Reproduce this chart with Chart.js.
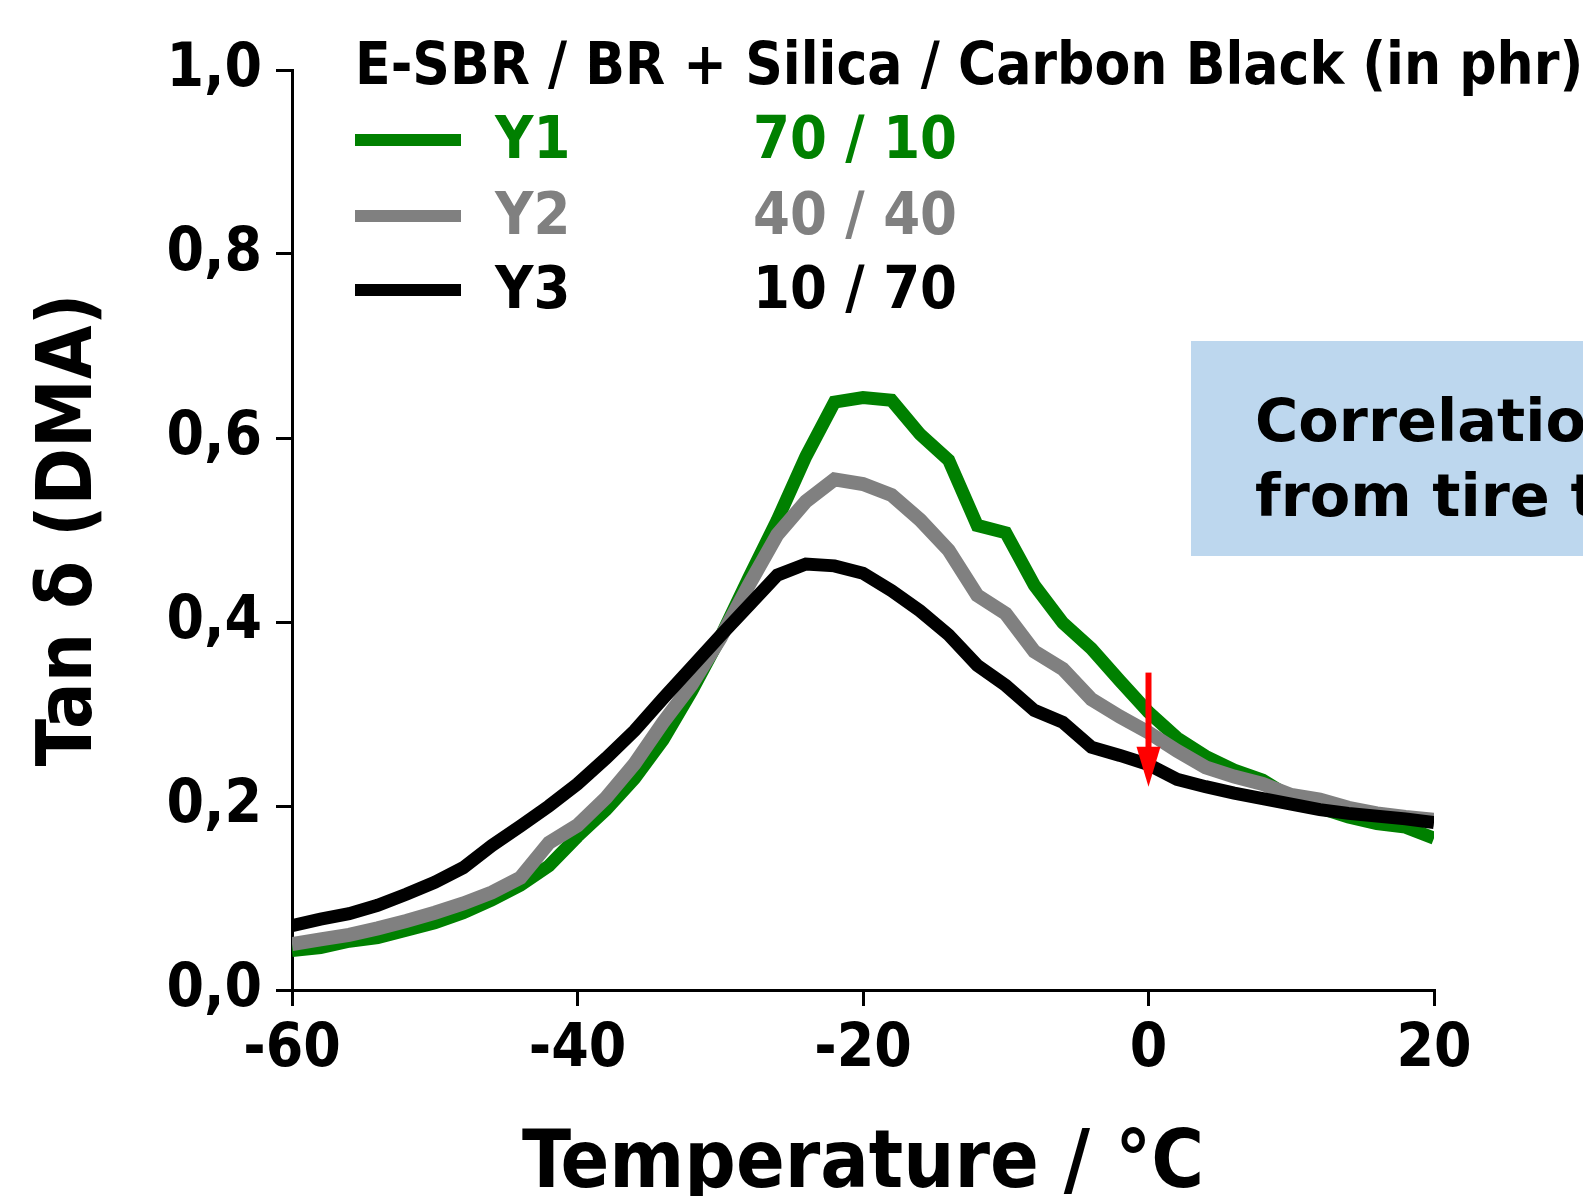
<!DOCTYPE html>
<html>
<head>
<meta charset="utf-8">
<script src="https://cdn.jsdelivr.net/npm/chart.js@4.4.0/dist/chart.umd.min.js"></script>
<style>
  html, body { margin: 0; padding: 0; background: #fff; }
  #wrap { width: 1583px; height: 1196px; }
</style>
</head>
<body>
<div id="wrap"><canvas id="tanDelta" width="1583" height="1196"></canvas></div>
<script>
// Tan delta (DMA) vs temperature
const temperatures = [-60, -58, -56, -54, -52, -50, -48, -46, -44, -42, -40, -38, -36, -34,
  -32, -30, -28, -26, -24, -22, -20, -18, -16, -14, -12, -10, -8, -6, -4, -2,
  0, 2, 4, 6, 8, 10, 12, 14, 16, 18, 20];
const y1Values = [0.043, 0.046, 0.053, 0.057, 0.065, 0.073, 0.084, 0.098, 0.114, 0.135, 0.167, 0.196, 0.230, 0.272,
  0.325, 0.383, 0.448, 0.511, 0.580, 0.639, 0.644, 0.641, 0.604, 0.576, 0.505, 0.497, 0.440, 0.399, 0.371, 0.336,
  0.302, 0.274, 0.254, 0.239, 0.228, 0.209, 0.198, 0.188, 0.181, 0.177, 0.165];
const y2Values = [0.050, 0.055, 0.060, 0.067, 0.075, 0.084, 0.094, 0.106, 0.122, 0.160, 0.179, 0.209, 0.246, 0.291,
  0.332, 0.382, 0.440, 0.495, 0.531, 0.555, 0.550, 0.538, 0.511, 0.478, 0.429, 0.409, 0.368, 0.349, 0.316, 0.297,
  0.280, 0.260, 0.242, 0.232, 0.224, 0.212, 0.207, 0.198, 0.192, 0.188, 0.185];
const y3Values = [0.070, 0.077, 0.083, 0.092, 0.104, 0.117, 0.133, 0.157, 0.178, 0.200, 0.224, 0.252, 0.282, 0.317,
  0.351, 0.385, 0.418, 0.451, 0.463, 0.461, 0.453, 0.434, 0.412, 0.386, 0.353, 0.331, 0.304, 0.291, 0.264, 0.255,
  0.245, 0.229, 0.221, 0.214, 0.208, 0.202, 0.196, 0.192, 0.189, 0.186, 0.182];

const seriesNames = ['Y1', 'Y2', 'Y3'];
const seriesRatios = ['70 / 10', '40 / 40', '10 / 70'];
const seriesColors = ['#008000', '#808080', '#000000'];
const seriesWidths = [13, 14, 13];
const legendTitle = 'E-SBR / BR + Silica / Carbon Black (in phr)';
const boxLines = ['Correlation', 'from tire tests'];

// red arrow at 0 °C, from / to tan delta
const arrowTemp = 0;
const arrowSpan = [0.345, 0.221];

const FONT = '"DejaVu Sans Condensed", "DejaVu Sans", sans-serif';
const WIDE_FONT = '"DejaVu Sans", sans-serif';

function toPoints(values) {
  return temperatures.map((t, i) => ({ x: t, y: values[i] }));
}

const extras = {
  id: 'extras',
  beforeDraw(chart) {
    const ctx = chart.ctx;
    ctx.save();
    ctx.fillStyle = '#bdd7ee';
    ctx.fillRect(1191, 341, 400, 215);
    ctx.fillStyle = '#000';
    ctx.font = 'bold 59px ' + WIDE_FONT;
    ctx.textBaseline = 'alphabetic';
    ctx.textAlign = 'left';
    ctx.fillText(boxLines[0], 1255, 441);
    ctx.fillText(boxLines[1], 1255, 516);
    ctx.restore();
  },
  afterDatasetsDraw(chart) {
    const ctx = chart.ctx;
    const x = chart.scales.x.getPixelForValue(arrowTemp);
    const yTop = chart.scales.y.getPixelForValue(arrowSpan[0]);
    const yTip = chart.scales.y.getPixelForValue(arrowSpan[1]);
    ctx.save();
    ctx.strokeStyle = '#ff0000';
    ctx.fillStyle = '#ff0000';
    ctx.lineWidth = 6;
    ctx.beginPath();
    ctx.moveTo(x, yTop);
    ctx.lineTo(x, yTip - 30);
    ctx.stroke();
    ctx.beginPath();
    ctx.moveTo(x - 12, yTip - 40);
    ctx.lineTo(x + 12, yTip - 40);
    ctx.lineTo(x, yTip);
    ctx.closePath();
    ctx.fill();
    ctx.restore();
  },
  afterDraw(chart) {
    const ctx = chart.ctx;
    ctx.save();
    ctx.textBaseline = 'alphabetic';
    ctx.textAlign = 'left';
    ctx.fillStyle = '#000';
    ctx.font = 'bold 58px ' + FONT;
    ctx.fillText(legendTitle, 355, 84);
    const rowBase = [158, 234, 308];
    ctx.font = 'bold 59px ' + FONT;
    seriesNames.forEach((name, i) => {
      ctx.fillStyle = seriesColors[i];
      ctx.fillRect(355, rowBase[i] - 24, 106, 12);
      ctx.fillText(name, 495, rowBase[i]);
      ctx.fillText(seriesRatios[i], 753, rowBase[i]);
    });
    ctx.restore();
  }
};

function makeDataset(i, values) {
  return {
    label: seriesNames[i],
    data: toPoints(values),
    borderColor: seriesColors[i],
    backgroundColor: seriesColors[i],
    borderWidth: seriesWidths[i],
    fill: false,
    tension: 0,
    pointRadius: 0,
    borderJoinStyle: 'miter',
    order: 3 - i
  };
}

new Chart(document.getElementById('tanDelta'), {
  type: 'line',
  data: {
    datasets: [makeDataset(0, y1Values), makeDataset(1, y2Values), makeDataset(2, y3Values)]
  },
  options: {
    responsive: false,
    animation: false,
    devicePixelRatio: 1,
    layout: { padding: { top: 70, right: 149, left: 0, bottom: 0 } },
    plugins: { legend: { display: false }, tooltip: { enabled: false } },
    scales: {
      x: {
        type: 'linear',
        min: -60,
        max: 20,
        afterFit(scale) { scale.height = 206; },
        ticks: { stepSize: 20, padding: 8, color: '#000', font: { family: FONT, size: 60, weight: 'bold' } },
        grid: { drawOnChartArea: false, drawTicks: true, tickLength: 16, color: '#000', lineWidth: 3 },
        border: { color: '#000', width: 3 },
        title: { display: true, text: 'Temperature / °C', color: '#000', padding: { top: 0, bottom: 0 },
          font: { family: FONT, size: 80, weight: 'bold', lineHeight: 0.75 } }
      },
      y: {
        min: 0,
        max: 1,
        afterFit(scale) { scale.width = 292; },
        ticks: { stepSize: 0.2, padding: 14, color: '#000', font: { family: FONT, size: 60, weight: 'bold' },
          callback: v => v.toFixed(1).replace('.', ',') },
        grid: { drawOnChartArea: false, drawTicks: true, tickLength: 16, color: '#000', lineWidth: 3 },
        border: { color: '#000', width: 3 },
        title: { display: true, text: 'Tan δ (DMA)', color: '#000', padding: { top: 32, bottom: 0 },
          font: { family: FONT, size: 77, weight: 'bold', lineHeight: 1 } }
      }
    }
  },
  plugins: [extras]
});
</script>
</body>
</html>
